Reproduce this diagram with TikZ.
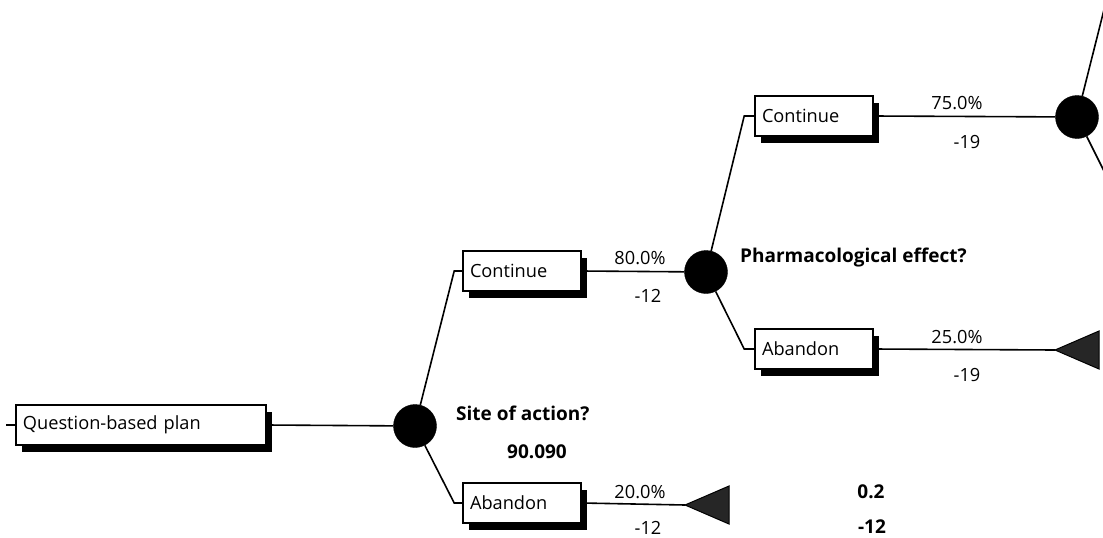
\documentclass[tikz,border=0pt]{standalone}
\usepackage{fontspec}
\setmainfont{Open Sans}
\usetikzlibrary{shadows,backgrounds}
\begin{document}
\begin{tikzpicture}[x=1pt,y=-1pt,
  every node/.style={font=\fontsize{18.2}{21}\selectfont},
  optbox/.style={draw=black, line width=1.6pt, fill=white, inner xsep=7pt, inner ysep=0pt,
     align=left, minimum height=40pt,
     drop shadow={shadow xshift=6pt, shadow yshift=-7pt, fill=black, opacity=1}},
  chance/.style={circle, fill=black, draw=black, minimum size=43pt, inner sep=0pt},
  endtri/.style={draw=black, fill=black!85, line width=1pt, line join=miter},
  conn/.style={line width=1.6pt},
  lbl/.style={inner sep=0pt},
  blbl/.style={inner sep=0pt, font=\fontsize{19}{22}\selectfont\bfseries}]
\useasboundingbox (0,0) rectangle (1103,538);
\clip (0,0) rectangle (1103,538);

% nodes
\node[optbox, text width=236pt] (root) at (141,425) {Question-based plan};
\coordinate (rootin) at (6,425);
\node[chance] (c1) at (415,426) {};
\node[optbox, text width=104pt] (cont1) at (522,271) {Continue};
\node[optbox, text width=104pt] (aban1) at (522,503) {Abandon};
\node[chance] (c2) at (706,272) {};
\node[optbox, text width=104pt] (cont2) at (814,116) {Continue};
\node[optbox, text width=104pt] (aban2) at (814,349) {Abandon};
\node[chance] (c3) at (1077,117) {};
\coordinate (c3up) at (1116,-38);
\coordinate (c3dn) at (1116,195);

% connectors
\begin{scope}[on background layer]
\draw[conn] (rootin) -- (root.west);
\draw[conn] (root.east) -- (c1);
\draw[conn] (c1) -- ([xshift=-8pt]cont1.west) -- (cont1.west);
\draw[conn] (c1) -- ([xshift=-8pt]aban1.west) -- (aban1.west);
\draw[conn] (cont1.east) -- (c2);
\draw[conn] (c2) -- ([xshift=-10pt]cont2.west) -- (cont2.west);
\draw[conn] (c2) -- ([xshift=-10pt]aban2.west) -- (aban2.west);
\draw[conn] (cont2.east) -- (c3);
\draw[conn] (c3) -- (c3up);
\draw[conn] (c3) -- (c3dn);
\coordinate (t1) at (685,505);
\coordinate (t2) at (1055,350);
\draw[conn] (aban1.east) -- (t1);
\draw[conn] (aban2.east) -- (t2);
\end{scope}

% terminal triangles
\draw[endtri] (t1) -- ++(44,-19) -- ++(0,38) -- cycle;
\draw[endtri] (t2) -- ++(44,-19) -- ++(0,38) -- cycle;

% labels
\node[lbl] (p1) at (640,258) {80.0\%};
\node[lbl] (v1) at (648,296) {-12};
\node[lbl] (p2) at (640,492) {20.0\%};
\node[lbl] (v2) at (648,528) {-12};
\node[lbl] (p3) at (957,103) {75.0\%};
\node[lbl] (v3) at (967,142) {-19};
\node[lbl] (p4) at (957,337) {25.0\%};
\node[lbl] (v4) at (967,375) {-19};
\node[blbl, anchor=west] (q1) at (456,413) {Site of action?};
\node[blbl] (ev1) at (537,452) {90.090};
\node[blbl, anchor=west] (q2) at (740,258) {Pharmacological effect?};
\node[blbl] (s1) at (871,492) {0.2};
\node[blbl] (s2) at (872,527) {-12};
\end{tikzpicture}
\end{document}
